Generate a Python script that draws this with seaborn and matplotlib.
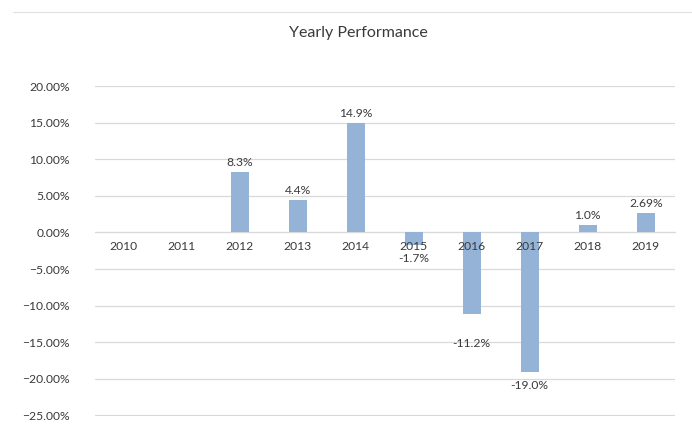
import seaborn as sns
import matplotlib.pyplot as plt
import matplotlib.ticker as mtick
import pandas as pd

sns.set_style("white")
plt.rcParams["font.family"] = ["Lato", "DejaVu Sans"]

# ---- Data ----
years = ["2010", "2011", "2012", "2013", "2014", "2015", "2016", "2017", "2018", "2019"]
returns = [0.0, 0.0, 0.083, 0.044, 0.149, -0.017, -0.112, -0.190, 0.010, 0.0269]
value_labels = ["", "", "8.3%", "4.4%", "14.9%", "-1.7%", "-11.2%", "-19.0%", "1.0%", "2.69%"]

# label offsets in points (style only: Excel labels were nudged by hand)
label_pad = [3, 3, 3, 3, 3, 6, 17, 6, 3, 3]

df = pd.DataFrame({"Year": years, "Return": returns})

fig = plt.figure(figsize=(6.92, 4.34), dpi=100)
ax = fig.add_axes([0.137, 0.042, 0.838, 0.76])

sns.barplot(data=df, x="Year", y="Return", color="#95B3D7", saturation=1,
            width=0.31, linewidth=0, ax=ax, zorder=2)

ax.set_ylim(-0.2505, 0.2003)
ax.set_yticks([0.20, 0.15, 0.10, 0.05, 0.0, -0.05, -0.10, -0.15, -0.20, -0.25])
ax.yaxis.set_major_formatter(mtick.PercentFormatter(1.0, decimals=2))
ax.grid(axis="y", color="#D9D9D9", linewidth=0.9, zorder=0)
ax.set_axisbelow(True)
ax.set_xlabel("")
ax.set_ylabel("")

# category axis crosses at zero, like Excel; its labels sit on top of the bars
for side in ["top", "right", "left"]:
    ax.spines[side].set_visible(False)
ax.spines["bottom"].set_position(("data", 0))
ax.spines["bottom"].set_color("#D9D9D9")
ax.spines["bottom"].set_zorder(1)
ax.xaxis.set_zorder(5)
ax.tick_params(axis="both", length=0, labelsize=8.7, colors="#3A3A3A")
ax.tick_params(axis="x", pad=6)
ax.tick_params(axis="y", pad=18)

for bar, text, pad in zip(ax.patches, value_labels, label_pad):
    h = bar.get_height()
    if text == "":
        continue
    va = "bottom" if h >= 0 else "top"
    off = pad if h >= 0 else -pad
    ax.annotate(text, (bar.get_x() + bar.get_width() / 2, h),
                xytext=(0, off), textcoords="offset points",
                ha="center", va=va, fontsize=8.7, color="#3A3A3A")

fig.text(0.518, 0.925, "Yearly Performance", ha="center", va="center",
         fontsize=11.5, color="#3A3A3A")

# faint border line at the very top of the cropped screenshot
fig.add_artist(plt.Line2D([0.019, 1.0], [0.972, 0.972], color="#E0E0E0",
                          linewidth=0.8, transform=fig.transFigure))

fig.savefig("out.png", dpi=100)
plt.close(fig)
